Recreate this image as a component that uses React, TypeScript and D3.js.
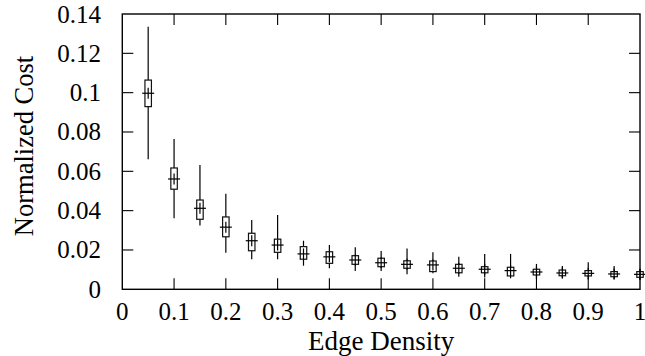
import React from "react";
import * as d3 from "d3";

const densities = [0.05, 0.1, 0.15, 0.2, 0.25, 0.3, 0.35, 0.4, 0.45, 0.5, 0.55, 0.6, 0.65, 0.7, 0.75, 0.8, 0.85, 0.9, 0.95, 1.0];
const whiskerHigh = [0.1335, 0.0764, 0.0632, 0.0486, 0.0352, 0.0378, 0.0247, 0.0225, 0.0214, 0.0195, 0.0208, 0.0188, 0.0166, 0.018, 0.018, 0.0129, 0.0118, 0.0137, 0.0118, 0.0102];
const whiskerLow = [0.0661, 0.0361, 0.0325, 0.0186, 0.0153, 0.0153, 0.012, 0.0107, 0.0093, 0.0093, 0.0076, 0.0081, 0.0064, 0.006, 0.0056, 0.0052, 0.0056, 0.005, 0.0051, 0.0047];
const boxHigh = [0.1064, 0.0617, 0.0454, 0.0368, 0.0285, 0.0255, 0.0217, 0.0191, 0.0171, 0.0158, 0.0145, 0.0144, 0.0127, 0.0115, 0.0112, 0.0102, 0.0098, 0.0095, 0.009, 0.009];
const boxLow = [0.0929, 0.0509, 0.0356, 0.0267, 0.0196, 0.0188, 0.0153, 0.0132, 0.0127, 0.0115, 0.0107, 0.009, 0.0084, 0.0084, 0.0068, 0.0073, 0.0069, 0.0068, 0.0064, 0.0061];
const meanCost = [0.0997, 0.0561, 0.0412, 0.0316, 0.0247, 0.0225, 0.018, 0.0165, 0.0149, 0.0135, 0.0127, 0.0124, 0.0107, 0.0102, 0.0095, 0.0088, 0.0083, 0.0081, 0.0078, 0.0076];

const xTicks = [0, 0.1, 0.2, 0.3, 0.4, 0.5, 0.6, 0.7, 0.8, 0.9, 1];
const xTickLabels = ["0", "0.1", "0.2", "0.3", "0.4", "0.5", "0.6", "0.7", "0.8", "0.9", "1"];
const yTicks = [0, 0.02, 0.04, 0.06, 0.08, 0.1, 0.12, 0.14];
const yTickLabels = ["0", "0.02", "0.04", "0.06", "0.08", "0.1", "0.12", "0.14"];

const W = 645;
const H = 356;
const left = 122.3;
const right = 640;
const top = 14;
const bottom = 289.3;
const textStyle = { fontFamily: "'Liberation Serif', serif" };

export default function App() {
  const x = d3.scaleLinear().domain([0, 1]).range([left, right]);
  const y = d3.scaleLinear().domain([0, 0.14]).range([bottom, top]);
  const tick = 11;
  const boxW = x(0.0125) - x(0);

  return (
    <svg width={W} height={H} style={{ position: "absolute", left: 0, top: 0, background: "#fff" }}>
      {densities.map((d, i) => (
        <line key={"w" + i} x1={x(d)} x2={x(d)} y1={y(whiskerLow[i])} y2={y(whiskerHigh[i])} stroke="#000" strokeWidth={1.2} />
      ))}
      {densities.map((d, i) => (
        <rect key={"b" + i} x={x(d) - boxW / 2} width={boxW} y={y(boxHigh[i])} height={y(boxLow[i]) - y(boxHigh[i])} fill="#fff" stroke="#111" strokeWidth={1.2} />
      ))}
      {densities.map((d, i) => (
        <g key={"m" + i} stroke="#000" strokeWidth={1.2}>
          <line x1={x(d) - 6} x2={x(d) + 6} y1={y(meanCost[i])} y2={y(meanCost[i])} />
          <line x1={x(d)} x2={x(d)} y1={y(meanCost[i]) - 5.5} y2={y(meanCost[i]) + 5.5} />
        </g>
      ))}
      {xTicks.map((t, i) => (
        <g key={"xt" + i} stroke="#000" strokeWidth={1.1}>
          {i > 0 && i < xTicks.length - 1 && (
            <>
              <line x1={x(t)} x2={x(t)} y1={bottom} y2={bottom - tick} />
              <line x1={x(t)} x2={x(t)} y1={top} y2={top + tick} />
            </>
          )}
        </g>
      ))}
      {yTicks.map((t, i) => (
        <g key={"yt" + i} stroke="#000" strokeWidth={1.1}>
          {i > 0 && i < yTicks.length - 1 && (
            <>
              <line x1={left} x2={left + tick} y1={y(t)} y2={y(t)} />
              <line x1={right} x2={right - tick} y1={y(t)} y2={y(t)} />
            </>
          )}
        </g>
      ))}
      <rect x={left} y={top} width={right - left} height={bottom - top} fill="none" stroke="#000" strokeWidth={1.4} />
      {xTicks.map((t, i) => (
        <text key={"xl" + i} x={x(t)} y={320} textAnchor="middle" style={textStyle} fontSize={25} fill="#000">
          {xTickLabels[i]}
        </text>
      ))}
      {yTicks.map((t, i) => (
        <text key={"yl" + i} x={101} y={y(t) + 8.5} textAnchor="end" style={textStyle} fontSize={25} fill="#000">
          {yTickLabels[i]}
        </text>
      ))}
      <text x={(left + right) / 2} y={350} textAnchor="middle" style={textStyle} fontSize={27} fill="#000">
        Edge Density
      </text>
      <text transform="translate(33, 146) rotate(-90)" textAnchor="middle" style={textStyle} fontSize={26.5} fill="#000">
        Normalized Cost
      </text>
    </svg>
  );
}
